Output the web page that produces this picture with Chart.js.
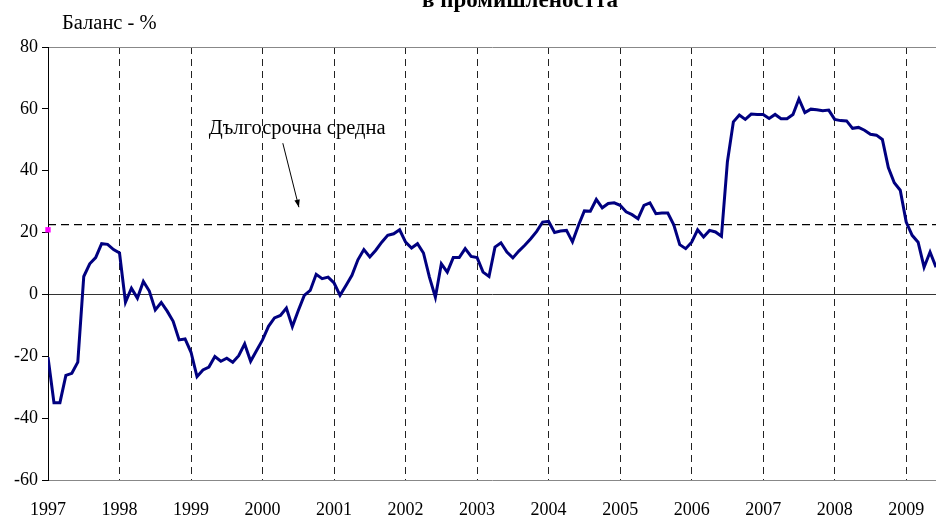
<!DOCTYPE html>
<html>
<head>
<meta charset="utf-8">
<script src="https://cdn.jsdelivr.net/npm/chart.js@4/dist/chart.umd.min.js"></script>
<style>
  body { margin: 0; background: #fff; }
  canvas { display: block; }
</style>
</head>
<body>
<canvas id="balans" width="936" height="521"></canvas>
<script>
// Бизнес климат в промишлеността, баланс в %, месечни данни от януари 1997
var YEARS = ["1997", "1998", "1999", "2000", "2001", "2002", "2003", "2004", "2005", "2006", "2007", "2008", "2009"];
var BALANS = [
  -20.3, -35, -35, -26.2, -25.5, -21.9, 5.8, 9.9, 11.9, 16.4, 16.2, 14.5,
  13.4, -2.5, 2.0, -1.2, 4.2, 1.1, -5.0, -2.6, -5.4, -8.7, -14.7, -14.4,
  -18.7, -26.6, -24.4, -23.5, -20.1, -21.6, -20.6, -21.9, -19.8, -16.0, -21.6, -18.1,
  -14.7, -10.3, -7.6, -6.8, -4.4, -10.4, -5.2, -0.3, 1.3, 6.5, 5.1, 5.6,
  3.7, -0.3, 2.9, 6.2, 11.2, 14.5, 12.1, 14.3, 16.9, 19.1, 19.6, 20.9,
  16.9, 15.0, 16.4, 13.4, 5.6, -0.9, 9.9, 7.2, 11.9, 11.9, 14.8, 12.3,
  11.9, 7.2, 5.8, 15.3, 16.7, 13.7, 11.8, 14.0, 15.9, 18.0, 20.4, 23.4,
  23.6, 20.0, 20.5, 20.7, 17.0, 22.3, 27.0, 26.9, 30.7, 28.0, 29.4, 29.6,
  28.8, 26.7, 25.8, 24.5, 28.8, 29.6, 26.1, 26.3, 26.3, 22.5, 16.1, 14.8,
  16.9, 20.9, 18.6, 20.7, 20.2, 18.8, 42.9, 55.8, 58.0, 56.6, 58.3, 58.2,
  58.2, 56.9, 58.2, 56.8, 56.8, 58.2, 63.2, 58.8, 59.9, 59.7, 59.4, 59.6,
  56.6, 56.2, 56.1, 53.7, 54.0, 53.1, 51.8, 51.5, 50.1, 41.0, 36.1, 33.7,
  23.4, 19.1, 16.9, 8.8, 13.7, 8.8
];
var SREDNA = 22.6;        // дългосрочна средна
var MARKER = [20.9];      // розовата точка в началото
var Y_TICKS = [-60, -40, -20, 0, 20, 40, 60, 80];

var SERIF = '"Liberation Serif", "Times New Roman", serif';
var last = BALANS.length - 1;

// надписи и стрелка, в единици на данните
var note = { text: "Дългосрочна средна", x: 41.8, y: 54 };
var arrow = { fromX: 39.4, fromY: 48.9, toX: 42.1, toY: 28.2 };

var textPlugin = {
  id: 'texts',
  afterDraw: function(chart) {
    var c = chart.ctx, xs = chart.scales.x, ys = chart.scales.y;
    c.save();
    c.fillStyle = '#000';
    c.textBaseline = 'alphabetic';
    c.textAlign = 'center';
    c.font = 'bold 23px ' + SERIF;
    c.fillText('Бизнес климат', 520, -18);
    c.fillText('в промишлеността', 520, 7);
    c.textAlign = 'left';
    c.font = '20.5px ' + SERIF;
    c.fillText('Баланс - %', 62, 29);
    c.textAlign = 'center';
    c.fillText(note.text, xs.getPixelForValue(note.x), ys.getPixelForValue(note.y) + 7);

    var x1 = xs.getPixelForValue(arrow.fromX), y1 = ys.getPixelForValue(arrow.fromY);
    var x2 = xs.getPixelForValue(arrow.toX), y2 = ys.getPixelForValue(arrow.toY);
    c.strokeStyle = '#000';
    c.lineWidth = 1;
    c.beginPath();
    c.moveTo(x1, y1);
    c.lineTo(x2, y2);
    c.stroke();
    var a = Math.atan2(y2 - y1, x2 - x1);
    c.beginPath();
    c.moveTo(x2, y2);
    c.lineTo(x2 - 8 * Math.cos(a - 0.35), y2 - 8 * Math.sin(a - 0.35));
    c.lineTo(x2 - 8 * Math.cos(a + 0.35), y2 - 8 * Math.sin(a + 0.35));
    c.closePath();
    c.fill();
    c.restore();
  }
};

new Chart(document.getElementById('balans').getContext('2d'), {
  type: 'line',
  data: {
    datasets: [{
      data: BALANS.map(function(v, i) { return { x: i, y: v }; }),
      borderColor: '#000080',
      borderWidth: 3,
      pointRadius: 0,
      tension: 0,
      order: 1
    }, {
      data: [{ x: 0, y: SREDNA }, { x: last, y: SREDNA }],
      borderColor: '#000',
      borderWidth: 1.3,
      borderDash: [8, 5],
      pointRadius: 0,
      order: 2
    }, {
      data: MARKER.map(function(v, i) { return { x: i, y: v }; }),
      showLine: false,
      pointStyle: 'rect',
      pointRadius: 3.8,
      backgroundColor: '#ff00ff',
      borderColor: '#ff00ff',
      borderWidth: 0,
      clip: false,
      order: 0
    }]
  },
  options: {
    responsive: false,
    devicePixelRatio: 1,
    animation: false,
    layout: { autoPadding: false, padding: { top: 47, right: 0, left: 0, bottom: 0 } },
    plugins: { legend: { display: false }, tooltip: { enabled: false }, title: { display: false } },
    scales: {
      x: {
        type: 'linear',
        min: 0,
        max: last,
        afterFit: function(s) { s.height = 41; s.paddingLeft = 0; s.paddingRight = 0; },
        afterBuildTicks: function(s) {
          s.ticks = YEARS.map(function(y, i) { return { value: i * 12 }; });
        },
        ticks: {
          color: '#000',
          font: { family: SERIF, size: 18 },
          padding: 19,
          maxRotation: 0,
          autoSkip: false,
          callback: function(v) { return YEARS[v / 12]; }
        },
        grid: {
          drawTicks: false,
          color: function(ctx) { return ctx.tick && ctx.tick.value === 0 ? 'rgba(0,0,0,0)' : '#222'; },
          lineWidth: 1
        },
        border: { color: '#888', width: 1, dash: [7, 5] }
      },
      y: {
        min: -60,
        max: 80,
        afterFit: function(s) { s.width = 48; },
        afterBuildTicks: function(s) {
          s.ticks = Y_TICKS.map(function(v) { return { value: v }; });
        },
        ticks: {
          color: '#000',
          font: { family: SERIF, size: 18 },
          padding: 4
        },
        grid: {
          tickLength: 6,
          tickColor: '#000',
          color: function(ctx) {
            if (!ctx.tick) return 'rgba(0,0,0,0)';
            if (ctx.tick.value === 0) return '#333';
            if (ctx.tick.value === 80) return '#888';
            return 'rgba(0,0,0,0)';
          }
        },
        border: { color: '#000', width: 1 }
      }
    }
  },
  plugins: [textPlugin]
});
</script>
</body>
</html>
